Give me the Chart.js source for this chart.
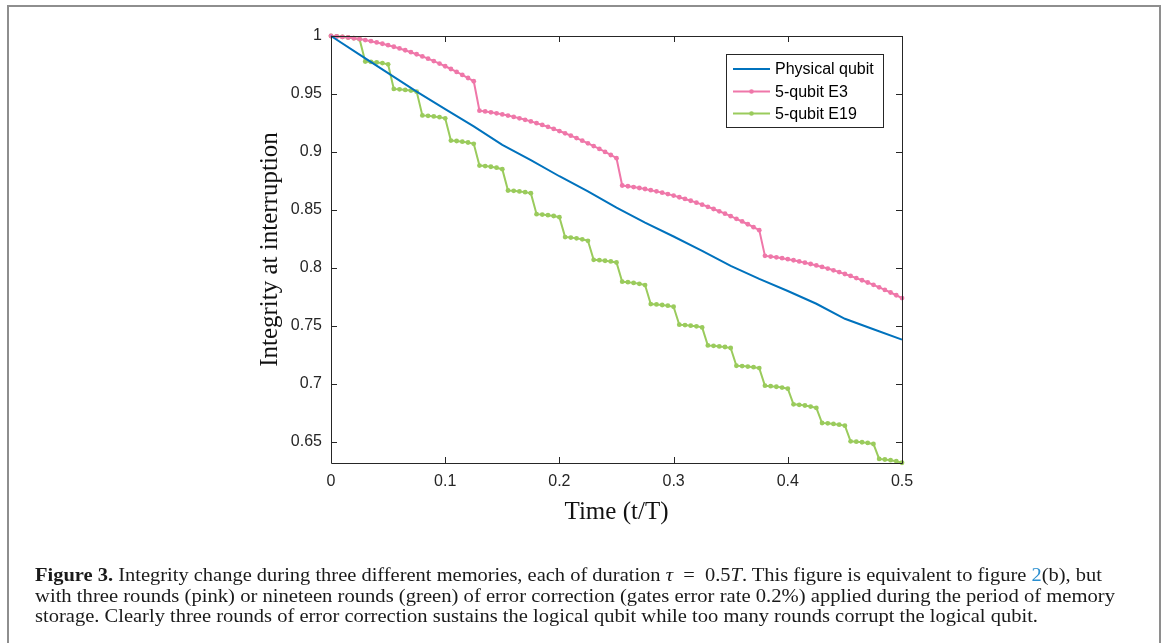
<!DOCTYPE html>
<html>
<head>
<meta charset="utf-8">
<script src="https://cdn.jsdelivr.net/npm/chart.js@4.4.1/dist/chart.umd.min.js"></script>
<style>
  html, body { margin: 0; padding: 0; background: #fff; }
  body { width: 1170px; height: 643px; position: relative; overflow: hidden; }
  #frame { position: absolute; left: 7px; top: 5px; width: 1154px; height: 660px;
           border: 2px solid #8e8e8e; border-bottom: none; box-sizing: border-box; }
  #wrap { position: absolute; left: 0; top: 0; width: 1170px; height: 643px; }
  .cap { position: absolute; left: 35px; white-space: nowrap; font-family: "Liberation Serif", serif;
         font-size: 19.5px; line-height: 20px; color: #1a1a1a; transform-origin: 0 0; }
  .cap b { font-weight: bold; }
  .cap .lnk { color: #2a8fd0; }
</style>
</head>
<body>
<div id="frame"></div>
<div id="wrap"><canvas id="c" width="1170" height="643"></canvas></div>
<div class="cap" id="l1" data-w="1067" style="top:565px"><b>Figure 3.</b> Integrity change during three different memories, each of duration <i>τ</i> &nbsp;=&nbsp; 0.5<i>T</i>. This figure is equivalent to figure <span class="lnk">2</span>(b), but</div>
<div class="cap" id="l2" data-w="1080" style="top:586px">with three rounds (pink) or nineteen rounds (green) of error correction (gates error rate 0.2%) applied during the period of memory</div>
<div class="cap" id="l3" data-w="1003" style="top:606px">storage. Clearly three rounds of error correction sustains the logical qubit while too many rounds corrupt the logical qubit.</div>
<script>
// ---- data ----
const seriesNames = ['Physical qubit', '5-qubit E3', '5-qubit E19'];
const seriesColors = ['#0072BD', '#EF77A9', '#9ACB5C'];
const xTicks = [0, 0.1, 0.2, 0.3, 0.4, 0.5];
const yTicks = [0.65, 0.7, 0.75, 0.8, 0.85, 0.9, 0.95, 1];
const xLabel = 'Time (t/T)';
const yLabel = 'Integrity at interruption';

// time grid of the marked series
const tGrid = [0,0.005,0.01,0.015,0.02,0.025,0.03,0.035,0.04,0.045,0.05,0.055,0.06,0.065,0.07,0.075,0.08,0.085,0.09,0.095,
  0.1,0.105,0.11,0.115,0.12,0.125,0.13,0.135,0.14,0.145,0.15,0.155,0.16,0.165,0.17,0.175,0.18,0.185,0.19,0.195,
  0.2,0.205,0.21,0.215,0.22,0.225,0.23,0.235,0.24,0.245,0.25,0.255,0.26,0.265,0.27,0.275,0.28,0.285,0.29,0.295,
  0.3,0.305,0.31,0.315,0.32,0.325,0.33,0.335,0.34,0.345,0.35,0.355,0.36,0.365,0.37,0.375,0.38,0.385,0.39,0.395,
  0.4,0.405,0.41,0.415,0.42,0.425,0.43,0.435,0.44,0.445,0.45,0.455,0.46,0.465,0.47,0.475,0.48,0.485,0.49,0.495,0.5];

// physical qubit
const tPhysical = [0,0.025,0.05,0.075,0.1,0.125,0.15,0.175,0.2,0.225,0.25,0.275,0.3,0.325,0.35,0.375,0.4,0.425,0.45,0.475,0.5];
const physical = [1.0,0.984,0.968,0.952,0.937,0.922,0.906,0.893,0.879,0.866,0.852,0.839,0.827,0.8147,0.8017,0.7905,0.780,0.769,0.756,0.747,0.738];

// 5-qubit E3
const e3 = [1.0,0.99967,0.99924,0.9987,0.99806,0.99732,0.99648,0.99553,0.99448,0.99333,0.99208,0.99072,0.98926,0.9877,0.98603,0.98427,0.9824,0.98043,0.97836,0.97618,0.9739,0.97152,0.96904,0.96645,0.96376,0.96097,
  0.9356,0.93493,0.93417,0.93332,0.93238,0.93135,0.93022,0.92901,0.92771,0.92632,0.92483,0.92326,0.9216,0.91984,0.918,0.91607,0.91404,0.91193,0.90972,0.90743,0.90504,0.90256,0.9,0.89734,0.89459,
  0.871,0.87037,0.86966,0.86886,0.86798,0.86701,0.86595,0.86481,0.86359,0.86229,0.86089,0.85941,0.85785,0.8562,0.85447,0.85266,0.85076,0.84877,0.8467,0.84455,0.8423,0.83998,0.83757,0.83507,0.83249,
  0.8103,0.80971,0.80903,0.80828,0.80744,0.80653,0.80552,0.80445,0.80329,0.80206,0.80074,0.79934,0.79787,0.79631,0.79467,0.79296,0.79115,0.78928,0.78732,0.78529,0.78316,0.78096,0.77869,0.77632,0.77388];

// 5-qubit E19
const e19 = [1.0,0.9997,0.9992,0.9987,0.9981,0.9973,
  0.978,0.9776,0.9772,0.9766,0.9756,
  0.9543,0.954,0.9535,0.9529,0.952,
  0.9315,0.9311,0.9306,0.93,0.929,
  0.9098,0.9094,0.9088,0.9081,0.907,
  0.8882,0.8878,0.8872,0.8864,0.8851,
  0.8667,0.8664,0.8659,0.8653,0.8644,
  0.8463,0.8459,0.8454,0.8447,0.8437,
  0.8265,0.8261,0.8254,0.8246,0.8233,
  0.8069,0.8066,0.8061,0.8055,0.8046,
  0.788,0.7876,0.787,0.7862,0.7851,
  0.7687,0.7684,0.7679,0.7673,0.7664,
  0.7509,0.7506,0.7501,0.7495,0.7486,
  0.733,0.7327,0.7322,0.7317,0.7308,
  0.7155,0.7152,0.7148,0.7143,0.7135,
  0.6983,0.6979,0.6974,0.6967,0.6957,
  0.6822,0.6818,0.6812,0.6803,0.6791,
  0.6661,0.6658,0.6653,0.6647,0.6638,
  0.6503,0.65,0.6495,0.6489,0.648,
  0.6351,0.6346,0.634,0.6331,0.6318];

const yMin = 0.6316, yMax = 1.0;

// ---- chart ----
const pts = (xs, ys) => ys.map((v, i) => ({x: xs[i], y: v}));
const tickFont = {family: '"Liberation Sans", Arial, sans-serif', size: 16};
const titleFont = {family: '"Liberation Serif", "Times New Roman", serif', size: 25};

const boxPlugin = {
  id: 'matlabBox',
  afterDatasetsDraw(chart) {
    const {ctx, chartArea: a, scales: {x, y}} = chart;
    ctx.save();
    ctx.strokeStyle = '#262626';
    ctx.lineWidth = 1;
    ctx.beginPath();
    ctx.rect(Math.round(a.left) + 0.5, Math.round(a.top) + 0.5, Math.round(a.right - a.left), Math.round(a.bottom - a.top));
    ctx.stroke();
    const tl = 6;
    ctx.beginPath();
    xTicks.forEach(v => {
      const px = Math.round(x.getPixelForValue(v)) + 0.5;
      ctx.moveTo(px, a.bottom); ctx.lineTo(px, a.bottom - tl);
      ctx.moveTo(px, a.top); ctx.lineTo(px, a.top + tl);
    });
    yTicks.forEach(v => {
      const py = Math.round(y.getPixelForValue(v)) + 0.5;
      ctx.moveTo(a.left, py); ctx.lineTo(a.left + tl, py);
      ctx.moveTo(a.right, py); ctx.lineTo(a.right - tl, py);
    });
    ctx.stroke();
    // legend
    const lx = 726.5, ly = 54.5, lw = 157, lh = 73;
    ctx.fillStyle = '#fff';
    ctx.fillRect(lx, ly, lw, lh);
    ctx.strokeStyle = '#262626';
    ctx.strokeRect(lx, ly, lw, lh);
    ctx.font = '16px "Liberation Sans", Arial, sans-serif';
    ctx.textBaseline = 'middle';
    ctx.textAlign = 'left';
    const rows = [69, 91.5, 113.5];
    chart.data.datasets.forEach((ds, i) => {
      const yy = rows[i];
      ctx.strokeStyle = ds.borderColor;
      ctx.lineWidth = 2;
      ctx.beginPath(); ctx.moveTo(733, yy); ctx.lineTo(770, yy); ctx.stroke();
      if (ds.pointRadius > 0) {
        ctx.fillStyle = ds.borderColor;
        ctx.beginPath(); ctx.arc(751.5, yy, 2.3, 0, Math.PI * 2); ctx.fill();
      }
      ctx.fillStyle = '#000';
      ctx.fillText(ds.label, 775, yy + 1);
    });
    ctx.restore();
  }
};

new Chart(document.getElementById('c'), {
  type: 'line',
  data: {
    datasets: [
      {label: seriesNames[0], data: pts(tPhysical, physical), borderColor: seriesColors[0], backgroundColor: seriesColors[0],
       borderWidth: 2, pointRadius: 0, tension: 0, clip: false},
      {label: seriesNames[1], data: pts(tGrid, e3), borderColor: seriesColors[1], backgroundColor: seriesColors[1],
       borderWidth: 2, pointRadius: 2.4, pointBorderWidth: 0, pointBackgroundColor: seriesColors[1], tension: 0, clip: false},
      {label: seriesNames[2], data: pts(tGrid, e19), borderColor: seriesColors[2], backgroundColor: seriesColors[2],
       borderWidth: 2, pointRadius: 2.4, pointBorderWidth: 0, pointBackgroundColor: seriesColors[2], tension: 0, clip: false}
    ]
  },
  options: {
    responsive: false,
    animation: false,
    events: [],
    layout: {padding: {left: 240, right: 268, top: 36, bottom: 113}},
    plugins: {legend: {display: false}, tooltip: {enabled: false}, title: {display: false}},
    scales: {
      x: {
        type: 'linear', min: 0, max: 0.5,
        afterBuildTicks: s => { s.ticks = xTicks.map(v => ({value: v})); },
        afterFit: s => { s.height = 67; },
        grid: {display: false, drawTicks: false},
        border: {display: false},
        ticks: {font: tickFont, color: '#262626', padding: 9, maxRotation: 0, autoSkip: false,
                callback: v => String(v)},
        title: {display: true, text: xLabel, font: titleFont, color: '#111', padding: {top: 0, bottom: 3}}
      },
      y: {
        type: 'linear', min: yMin, max: yMax,
        afterBuildTicks: s => { s.ticks = yTicks.map(v => ({value: v})); },
        afterFit: s => { s.width = 91; },
        grid: {display: false, drawTicks: false},
        border: {display: false},
        ticks: {font: tickFont, color: '#262626', padding: 9, autoSkip: false, callback: v => String(v)},
        title: {display: true, text: yLabel, font: titleFont, color: '#111', padding: {top: 15, bottom: 0}}
      }
    }
  },
  plugins: [boxPlugin]
});

// fit caption lines to their widths
document.querySelectorAll('.cap').forEach(el => {
  const w = el.getBoundingClientRect().width;
  const target = +el.dataset.w;
  el.style.transform = 'scaleX(' + (target / w) + ')';
});
</script>
</body>
</html>
